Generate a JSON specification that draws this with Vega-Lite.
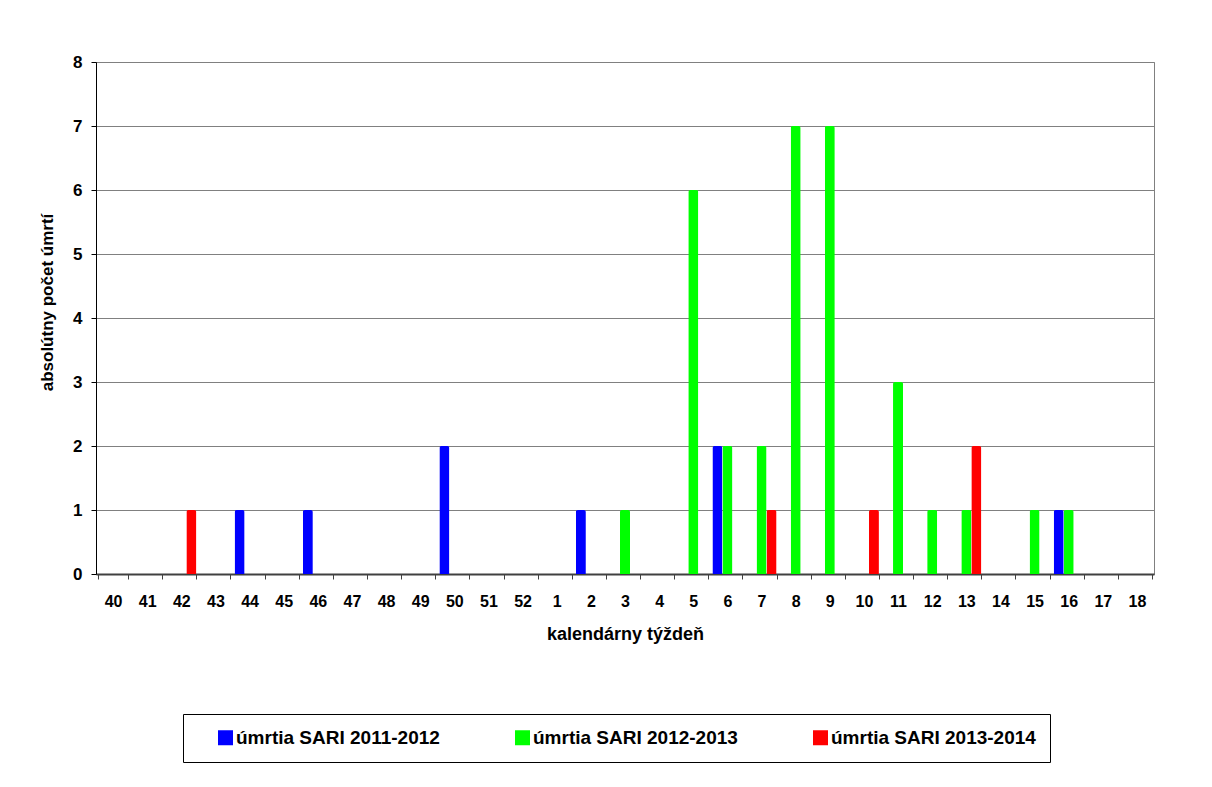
{
  "$schema": "https://vega.github.io/schema/vega-lite/v6.json",
  "width": 1058,
  "height": 512,
  "autosize": {"type": "none"},
  "padding": {"left": 96, "top": 62, "right": 58, "bottom": 213},
  "background": "white",
  "data": {
    "values": [
      {"week": "44", "series": "úmrtia SARI 2011-2012", "count": 1},
      {"week": "46", "series": "úmrtia SARI 2011-2012", "count": 1},
      {"week": "50", "series": "úmrtia SARI 2011-2012", "count": 2},
      {"week": "2", "series": "úmrtia SARI 2011-2012", "count": 1},
      {"week": "6", "series": "úmrtia SARI 2011-2012", "count": 2},
      {"week": "16", "series": "úmrtia SARI 2011-2012", "count": 1},
      {"week": "3", "series": "úmrtia SARI 2012-2013", "count": 1},
      {"week": "5", "series": "úmrtia SARI 2012-2013", "count": 6},
      {"week": "6", "series": "úmrtia SARI 2012-2013", "count": 2},
      {"week": "7", "series": "úmrtia SARI 2012-2013", "count": 2},
      {"week": "8", "series": "úmrtia SARI 2012-2013", "count": 7},
      {"week": "9", "series": "úmrtia SARI 2012-2013", "count": 7},
      {"week": "11", "series": "úmrtia SARI 2012-2013", "count": 3},
      {"week": "12", "series": "úmrtia SARI 2012-2013", "count": 1},
      {"week": "13", "series": "úmrtia SARI 2012-2013", "count": 1},
      {"week": "15", "series": "úmrtia SARI 2012-2013", "count": 1},
      {"week": "16", "series": "úmrtia SARI 2012-2013", "count": 1},
      {"week": "42", "series": "úmrtia SARI 2013-2014", "count": 1},
      {"week": "7", "series": "úmrtia SARI 2013-2014", "count": 1},
      {"week": "10", "series": "úmrtia SARI 2013-2014", "count": 1},
      {"week": "13", "series": "úmrtia SARI 2013-2014", "count": 2}
    ]
  },
  "mark": {"type": "bar", "cornerRadiusTopLeft": 2, "cornerRadiusTopRight": 2},
  "encoding": {
    "x": {
      "field": "week",
      "type": "nominal",
      "sort": ["40","41","42","43","44","45","46","47","48","49","50","51","52","1","2","3","4","5","6","7","8","9","10","11","12","13","14","15","16","17","18"],
      "scale": {"domain": ["40","41","42","43","44","45","46","47","48","49","50","51","52","1","2","3","4","5","6","7","8","9","10","11","12","13","14","15","16","17","18"], "paddingInner": 0.12, "paddingOuter": 0.06},
      "axis": {
        "title": "kalendárny týždeň",
        "labelAngle": 0,
        "tickBand": "extent",
        "tickSize": 5,
        "domainColor": "#404040",
        "domainWidth": 2,
        "tickColor": "#404040",
        "labelPadding": 14,
        "titlePadding": 16,
        "labelFontSize": 16,
        "titleFontSize": 18
      }
    },
    "xOffset": {
      "field": "series",
      "type": "nominal",
      "sort": ["úmrtia SARI 2011-2012", "úmrtia SARI 2012-2013", "úmrtia SARI 2013-2014"],
      "scale": {"domain": ["úmrtia SARI 2011-2012", "úmrtia SARI 2012-2013", "úmrtia SARI 2013-2014"], "paddingInner": 0, "paddingOuter": 0}
    },
    "y": {
      "field": "count",
      "type": "quantitative",
      "scale": {"domain": [0, 8], "nice": false},
      "axis": {
        "values": [0, 1, 2, 3, 4, 5, 6, 7, 8],
        "title": "absolútny počet úmrtí",
        "titleY": 240,
        "gridColor": "#808080",
        "gridWidth": 1,
        "domainColor": "black",
        "tickColor": "black",
        "tickSize": 5,
        "labelPadding": 9,
        "titlePadding": 16,
        "labelFontSize": 17,
        "titleFontSize": 17
      }
    },
    "color": {
      "field": "series",
      "type": "nominal",
      "scale": {"domain": ["úmrtia SARI 2011-2012", "úmrtia SARI 2012-2013", "úmrtia SARI 2013-2014"], "range": ["#0000ff", "#00ff00", "#ff0000"]},
      "legend": {
        "title": null,
        "orient": "none",
        "legendX": 87,
        "legendY": 652,
        "direction": "horizontal",
        "columns": 3,
        "columnPadding": 54,
        "strokeColor": "black",
        "padding": 14,
        "symbolOffset": 19,
        "symbolType": "square",
        "symbolSize": 225,
        "symbolStrokeWidth": 0,
        "symbolOpacity": 1,
        "labelOffset": 1,
        "labelFont": "Liberation Sans",
        "labelFontWeight": "bold",
        "labelFontSize": 19,
        "labelColor": "black",
        "labelLimit": 400
      }
    }
  },
  "config": {
    "view": {"stroke": "#808080", "strokeWidth": 1},
    "axis": {
      "labelFont": "Liberation Sans",
      "labelFontWeight": "bold",
      "labelColor": "black",
      "titleFont": "Liberation Sans",
      "titleFontWeight": "bold",
      "titleColor": "black",
      "domainOpacity": 1
    }
  }
}
